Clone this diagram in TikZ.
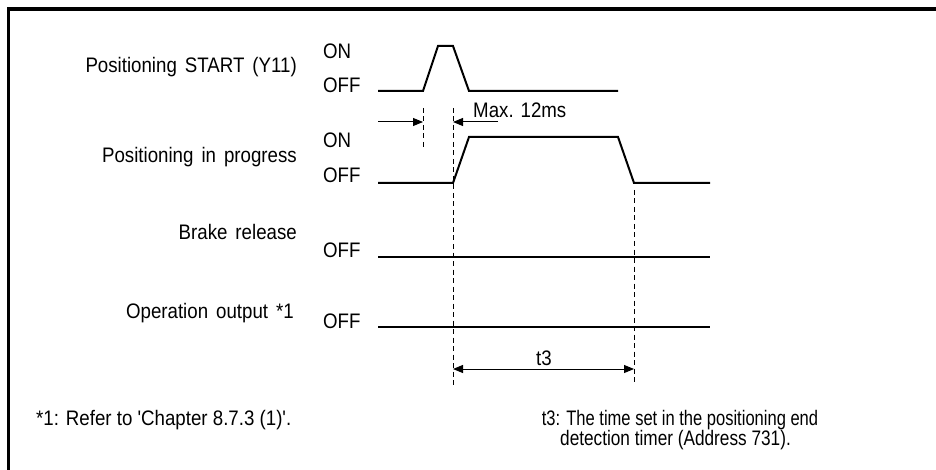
\documentclass[tikz,border=0pt]{standalone}
\usepackage{fontspec}
\usepackage{graphicx}
\newfontfamily\lsans{Liberation Sans}[FakeStretch=0.89]
\newfontfamily\lsanc{Liberation Sans}[FakeStretch=0.82]
\newcommand\wsp{\hspace{8pt}}
\usetikzlibrary{arrows.meta}
\begin{document}
\begin{tikzpicture}[x=1pt,y=-1pt,
  txt/.style={inner sep=0pt,font=\lsans\fontsize{21}{24}\selectfont},
  ntxt/.style={inner sep=0pt,font=\lsanc\fontsize{21}{24}\selectfont},
  sig/.style={line width=2pt,line join=miter},
  guide/.style={line width=1pt,dash pattern=on 5pt off 3.5pt},
  dimarrow/.style={line width=1pt,-{Triangle[length=10pt,width=8pt]}},
  dimboth/.style={line width=1pt,{Triangle[length=10pt,width=8pt]}-{Triangle[length=10pt,width=8pt]}},
  framestroke/.style={line width=3.3pt}]
\useasboundingbox (0,0) rectangle (936,470);
% frame
\coordinate (fb) at (8.5,470);
\coordinate (fc) at (8.5,9);
\coordinate (fr) at (936,9);
\draw[framestroke] (fb) -- (fc) -- (fr);

% labels
\node[txt,anchor=base east] (l1) at (297,73) {Positioning\wsp START\wsp (Y11)};
\node[txt,anchor=base east] (l2) at (297,163) {Positioning\wsp in\wsp progress};
\node[txt,anchor=base east] (l3) at (297,240) {Brake\wsp release};
\node[txt,anchor=base east] (l4) at (294,318) {Operation\wsp output\wsp *1};
\node[txt,anchor=base west] (on1) at (323,59) {ON};
\node[txt,anchor=base west] (off1) at (323,93) {OFF};
\node[txt,anchor=base west] (on2) at (323,148) {ON};
\node[txt,anchor=base west] (off2) at (323,183) {OFF};
\node[txt,anchor=base west] (off3) at (323,258) {OFF};
\node[txt,anchor=base west] (off4) at (323,328) {OFF};

% signals
\draw[sig] (378,91) -- (423,91) -- (438,46) -- (453,46) -- (469,91) -- (618,91);
\draw[sig] (378,183) -- (453,183) -- (469,137) -- (618,137) -- (634,183) -- (710,183);
\draw[sig] (378,257) -- (710,257);
\draw[sig] (378,327) -- (710,327);

% guides
\coordinate (g1a) at (423,108); \coordinate (g1b) at (423,150);
\coordinate (g2a) at (453,108); \coordinate (g2b) at (453,385);
\coordinate (g3a) at (634,190); \coordinate (g3b) at (634,385);
\draw[guide] (g1a) -- (g1b);
\draw[guide] (g2a) -- (g2b);
\draw[guide] (g3a) -- (g3b);

% Max. 12ms
\coordinate (m1) at (378,122); \coordinate (m1e) at (423,122);
\coordinate (m2) at (498,122); \coordinate (m2e) at (453,122);
\draw[dimarrow] (m1) -- (m1e);
\draw[dimarrow] (m2) -- (m2e);
\node[txt,anchor=base west] (max) at (473,118) {Max. 12ms};

% t3
\coordinate (t3a) at (453,369); \coordinate (t3b) at (634,369);
\draw[dimboth] (t3a) -- (t3b);
\node[txt,anchor=base] (t3) at (544,365) {t3};

% footnotes
\node[txt,anchor=base west] (fn1) at (36,425) {*1: Refer to 'Chapter 8.7.3 (1)'.};
\node[ntxt,anchor=base] (fn2a) at (680,425) {\scalebox{0.96}[1]{t3: The time set in the positioning end}};
\node[ntxt,anchor=base] (fn2b) at (675.5,445) {detection timer (Address 731).};
\end{tikzpicture}
\end{document}
